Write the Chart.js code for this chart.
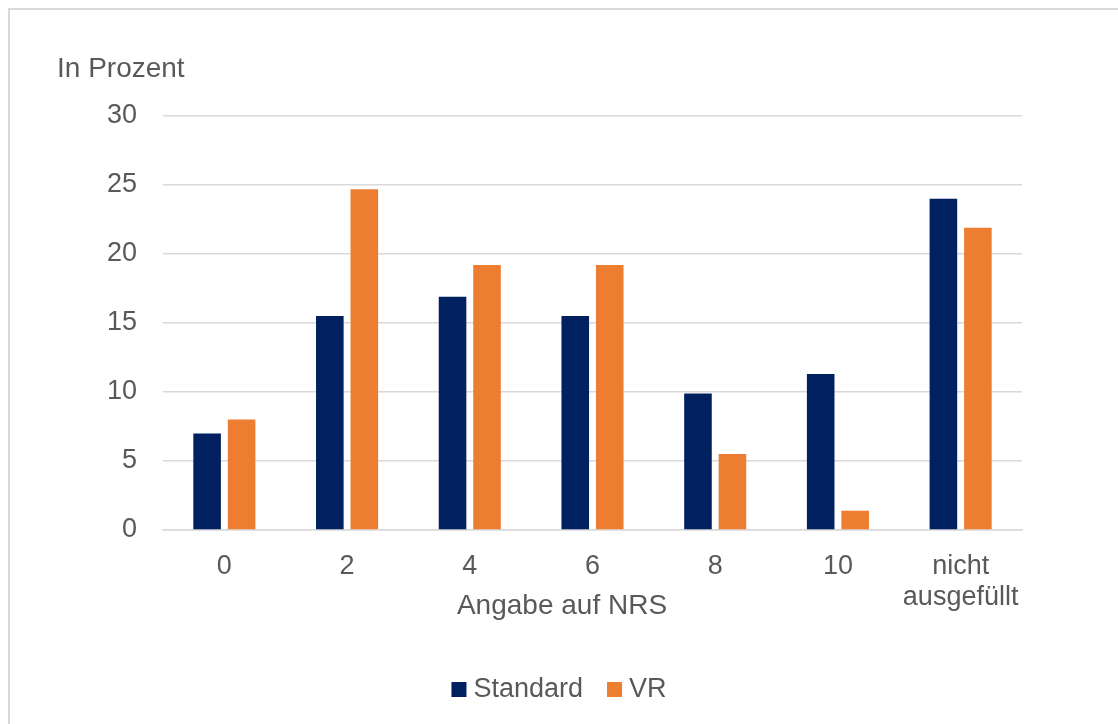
<!DOCTYPE html>
<html>
<head>
<meta charset="utf-8">
<script src="https://cdn.jsdelivr.net/npm/chart.js@4"></script>
<style>
  html, body { margin: 0; padding: 0; background: #fff; overflow: hidden; }
  #frame { position: absolute; left: 8px; top: 8px; width: 1300px; height: 900px; border: 2px solid #d9d9d9; box-sizing: border-box; }
  #wrap { position: absolute; left: 0; top: 0; width: 1118px; height: 724px; }
</style>
</head>
<body>
<div id="frame"></div>
<div id="wrap"><canvas id="c" width="1118" height="724"></canvas></div>
<script>
const categories = ['0', '2', '4', '6', '8', '10', ['nicht', 'ausgefüllt']];
const standardValues = [7.0, 15.5, 16.9, 15.5, 9.9, 11.3, 24.0];
const vrValues = [8.0, 24.7, 19.2, 19.2, 5.5, 1.4, 21.9];
const seriesNames = ['Standard', 'VR'];
const seriesColors = ['#002060', '#ED7D31'];
const yTicks = [0, 5, 10, 15, 20, 25, 30];
const yAxisLabel = 'In Prozent';
const xAxisLabel = 'Angabe auf NRS';

const FONT = "'Liberation Sans', Arial, sans-serif";
const TEXT = '#595959';

const labelsPlugin = {
  id: 'axisLabels',
  afterDraw(chart) {
    const ctx = chart.ctx;
    const ca = chart.chartArea;
    ctx.save();
    ctx.fillStyle = TEXT;
    ctx.font = '28px ' + FONT;
    ctx.textBaseline = 'alphabetic';
    ctx.textAlign = 'left';
    ctx.fillText(yAxisLabel, ca.left - 106, ca.top - 39);
    ctx.textAlign = 'center';
    ctx.fillText(xAxisLabel, ca.left + 399, ca.bottom + 84);

    // legend, built from the datasets
    ctx.font = '27px ' + FONT;
    const box = 15, gap = 7, spacing = 24;
    const items = chart.data.datasets.map(ds => ({ text: ds.label, color: ds.backgroundColor, w: ctx.measureText(ds.label).width }));
    const total = items.reduce((s, it) => s + box + gap + it.w, 0) + spacing * (items.length - 1);
    let x = 559 - total / 2;
    const baseY = ca.bottom + 167;
    ctx.textAlign = 'left';
    items.forEach(it => {
      ctx.fillStyle = it.color;
      ctx.fillRect(x, baseY - box, box, box);
      ctx.fillStyle = TEXT;
      ctx.fillText(it.text, x + box + gap, baseY);
      x += box + gap + it.w + spacing;
    });
    ctx.restore();
  }
};

new Chart(document.getElementById('c'), {
  type: 'bar',
  data: {
    labels: categories,
    datasets: [
      { label: seriesNames[0], data: standardValues, backgroundColor: seriesColors[0], categoryPercentage: 0.562, barPercentage: 0.8 },
      { label: seriesNames[1], data: vrValues, backgroundColor: seriesColors[1], categoryPercentage: 0.562, barPercentage: 0.8 }
    ]
  },
  options: {
    responsive: false,
    animation: false,
    layout: { padding: { left: 0, right: 96, top: 116, bottom: 0 } },
    plugins: {
      tooltip: { enabled: false },
      legend: { display: false }
    },
    scales: {
      y: {
        min: 0, max: 30,
        afterFit(scale) { scale.width = 163; },
        afterBuildTicks(scale) { scale.ticks = yTicks.map(v => ({ value: v })); },
        border: { display: false },
        grid: { color: '#d9d9d9', lineWidth: 1.5, drawTicks: false },
        ticks: { padding: 26, color: TEXT, font: { family: FONT, size: 27 } }
      },
      x: {
        afterFit(scale) { scale.height = 194; },
        grid: { display: false, drawTicks: false },
        border: { display: true, color: '#d9d9d9', width: 1.5 },
        ticks: { padding: 21, color: TEXT, maxRotation: 0, font: { family: FONT, size: 27, lineHeight: 1.15 } }
      }
    }
  },
  plugins: [labelsPlugin]
});
</script>
</body>
</html>
